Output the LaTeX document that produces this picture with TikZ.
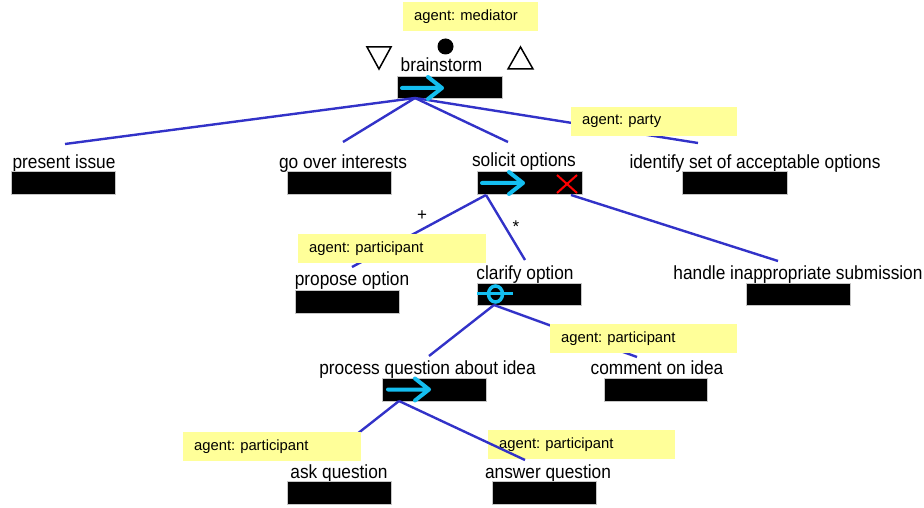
\documentclass[tikz,border=0pt]{standalone}
\usepackage{fontspec}
\setmainfont{Liberation Sans}
\definecolor{agentyellow}{RGB}{255,255,153}
\definecolor{linkblue}{RGB}{50,50,200}
\definecolor{iconcyan}{RGB}{20,190,240}
\newcommand{\tallbox}[1]{\scalebox{1}[1.1]{#1}}
\begin{document}
\frenchspacing
\begin{tikzpicture}[x=1pt,y=-1pt,
  lbl/.style={font=\fontsize{17.3}{20}\selectfont, inner sep=0pt, anchor=base},
  blk/.style={fill=black, draw=gray!45, line width=0.6pt, minimum width=104pt, minimum height=23pt, inner sep=0pt},
  agent/.style={fill=agentyellow, draw=none, anchor=north west, inner xsep=11pt, inner ysep=0pt,
     minimum height=29pt, align=left, font=\fontsize{14.8}{17}\selectfont},
  link/.style={draw=linkblue, line width=2.4pt},
  cyanicon/.style={draw=iconcyan, line width=4pt, line cap=round, line join=round},
  sym/.style={draw=black, line width=1.5pt}]
\useasboundingbox (0,0) rectangle (924,508);

% ---------- labels ----------
\node[lbl] (bs)   at (441.5,72) {\tallbox{brainstorm}};
\node[lbl] (pi)   at (64,168) {\tallbox{present issue}};
\node[lbl] (goi)  at (343,168) {\tallbox{go over interests}};
\node[lbl] (so)   at (524,167) {\tallbox{solicit options}};
\node[lbl] (isa)  at (755,168) {\tallbox{identify set of acceptable options}};
\node[lbl] (po)   at (352,285) {\tallbox{propose option}};
\node[lbl] (co)   at (525,279) {\tallbox{clarify option}};
\node[lbl] (his)  at (798,279) {\tallbox{handle inappropriate submission}};
\node[lbl] (pq)   at (427.5,374) {\tallbox{process question about idea}};
\node[lbl] (ci)   at (657,374) {\tallbox{comment on idea}};
\node[lbl] (aq)   at (339,478) {\tallbox{ask question}};
\node[lbl] (anq)  at (548,478) {\tallbox{answer question}};

% ---------- black boxes ----------
\node[blk, minimum width=105pt, minimum height=22pt] (bsB) at (449.5,87) {};
\node[blk] (piB)  at (63,182.5) {};
\node[blk] (goiB) at (339,182.5) {};
\node[blk, minimum width=105pt] (soB) at (529.5,182.5) {};
\node[blk, minimum width=105pt] (isaB) at (734.5,182.5) {};
\node[blk] (poB)  at (347,301.5) {};
\node[blk, minimum height=22pt] (coB) at (529,294) {};
\node[blk, minimum height=22pt] (hisB) at (798,294) {};
\node[blk] (pqB)  at (434,389.5) {};
\node[blk, minimum width=103pt] (ciB) at (655.5,389.5) {};
\node[blk] (aqB)  at (339,492.5) {};
\node[blk] (anqB) at (544,492.5) {};

% ---------- connector end points ----------
\coordinate (bs-o) at (415,98);
\coordinate (pi-i) at (65,144);
\coordinate (goi-i) at (343,142);
\coordinate (so-i) at (508,142);
\coordinate (isa-i) at (698,143);
\coordinate (so-o) at (486,195);
\coordinate (so-x) at (571,195);
\coordinate (po-i) at (352,267);
\coordinate (co-i) at (525,260);
\coordinate (his-i) at (778,261);
\coordinate (co-o) at (494,305);
\coordinate (pq-i) at (429,356);
\coordinate (ci-i) at (637,357);
\coordinate (pq-o) at (399,401);
\coordinate (aq-i) at (352,438);
\coordinate (anq-i) at (525,460);

% agent label drawn below its connector
\node[agent, minimum width=187pt, text width=165pt] (agAnq) at (488,430) {agent: participant};

% ---------- connectors ----------
\draw[link] (bs-o) -- (pi-i);
\draw[link] (bs-o) -- (goi-i);
\draw[link] (bs-o) -- (so-i);
\draw[link] (bs-o) -- (isa-i);
\draw[link] (so-o) -- (po-i);
\draw[link] (so-o) -- (co-i);
\draw[link] (so-x) -- (his-i);
\draw[link] (co-o) -- (pq-i);
\draw[link] (co-o) -- (ci-i);
\draw[link] (pq-o) -- (aq-i);
\draw[link] (pq-o) -- (anq-i);

% ---------- agent labels ----------
\node[agent, minimum width=135pt, text width=113pt] (agMed) at (403,2) {agent: mediator};
\node[agent, minimum width=166pt, text width=144pt] (agParty) at (571,107) {agent: party};
\node[agent, minimum width=188pt, text width=166pt] (agPo) at (298,234) {agent: participant};
\node[agent, minimum width=187pt, text width=165pt] (agCi) at (550,324) {agent: participant};
\node[agent, minimum width=178pt, text width=156pt] (agAq) at (183,432) {agent: participant};

% ---------- symbols ----------
\draw[sym] (367,47) -- (391,47) -- (379,69) -- cycle;
\draw[sym] (508,69) -- (533,69) -- (520.5,47) -- cycle;
\fill[black] (445.5,46.5) circle (8pt);

\node[font=\fontsize{17}{19}\selectfont, inner sep=0pt] (plus) at (422,216) {+};
\node[font=\fontsize{17}{19}\selectfont, inner sep=0pt] (star) at (516,227) {*};

% ---------- icons ----------
\draw[cyanicon] (402,88) -- (442,88) (428,77) -- (442,88) -- (428,99);
\draw[cyanicon] (482,183) -- (523,183) (509,172) -- (523,183) -- (509,194);
\draw[cyanicon] (388,389.5) -- (429,389.5) (415,378.5) -- (429,389.5) -- (415,400.5);
\draw[draw=red, line width=2pt] (557,175) -- (577,193) (577,175) -- (557,193);
\draw[draw=iconcyan, line width=3.5pt] (495.5,294) ellipse (7pt and 8pt);
\draw[draw=iconcyan, line width=3pt] (477,293.5) -- (513,293.5);
\end{tikzpicture}
\end{document}
